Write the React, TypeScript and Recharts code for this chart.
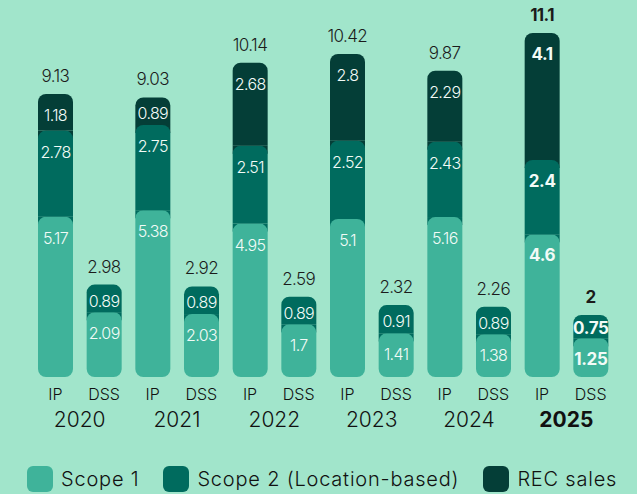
import { ComposedChart, Bar, Scatter, XAxis, YAxis, LabelList, Legend, Rectangle } from "recharts";

const years = ["2020", "2021", "2022", "2023", "2024", "2025"];
const sites = ["IP", "DSS"];
const scope1 = [5.17, 2.09, 5.38, 2.03, 4.95, 1.7, 5.1, 1.41, 5.16, 1.38, 4.6, 1.25];
const scope2 = [2.78, 0.89, 2.75, 0.89, 2.51, 0.89, 2.52, 0.91, 2.43, 0.89, 2.4, 0.75];
const recSales = [1.18, 0, 0.89, 0, 2.68, 0, 2.8, 0, 2.29, 0, 4.1, 0];
const totals = [9.13, 2.98, 9.03, 2.92, 10.14, 2.59, 10.42, 2.32, 9.87, 2.26, 11.1, 2];

const C1 = "#3fb39a";
const C2 = "#006b5e";
const C3 = "#043e37";
const BG = "#a1e5cb";
const FONT = "Inter, 'DejaVu Sans', sans-serif";
const R = 8;

const W = 637;
const H = 494;
const margin = { top: 5, right: 22, left: 31, bottom: 0 };
const halfStep = (W - margin.left - margin.right) / 12 / 2;

const data = scope1.map((v, i) => ({
  key: `${sites[i % 2]}-${years[Math.floor(i / 2)]}`,
  site: sites[i % 2],
  year: years[Math.floor(i / 2)],
  scope1: v,
  scope2: scope2[i],
  rec: recSales[i],
  total: totals[i],
}));

// lower segment paints the next colour behind its rounded top corners
function Scope1Shape(props: any) {
  const { x, y, width, height } = props;
  return (
    <g>
      <rect x={x} y={y} width={width} height={R} fill={C2} />
      <Rectangle x={x} y={y} width={width} height={height} radius={R} fill={C1} />
    </g>
  );
}

function Scope2Shape(props: any) {
  const { x, y, width, height, payload } = props;
  return (
    <g>
      {payload.rec > 0 && <rect x={x} y={y} width={width} height={R} fill={C3} />}
      <Rectangle x={x} y={y} width={width} height={height} radius={[R, R, 0, 0]} fill={C2} />
    </g>
  );
}

function RecShape(props: any) {
  const { x, y, width, height } = props;
  if (!height) return <g />;
  return <Rectangle x={x} y={y} width={width} height={height} radius={[R, R, 0, 0]} fill={C3} />;
}

const innerLabel = (props: any) => {
  const { x, y, width, height, value, index } = props;
  if (!value) return null;
  const bold = index >= 10;
  return (
    <text
      x={x + width / 2}
      y={y + Math.min(21, height * 0.58)}
      textAnchor="middle"
      dominantBaseline="central"
      fill="#f2fbf7"
      fontSize={bold ? 17 : 16}
      fontWeight={bold ? 700 : 300}
      letterSpacing={bold ? -0.3 : -0.6}
      fontFamily={FONT}
    >
      {value}
    </text>
  );
};

function TotalShape(props: any) {
  const { cx, cy, payload, index } = props;
  const bold = index >= 10;
  return (
    <text
      x={cx}
      y={cy - 18}
      textAnchor="middle"
      dominantBaseline="central"
      fill="#1b1b1b"
      fontSize={17}
      fontWeight={bold ? 700 : 300}
      letterSpacing={-0.6}
      fontFamily={FONT}
    >
      {payload.total}
    </text>
  );
}

function AxisTick(props: any) {
  const { x, y, index } = props;
  const d = data[index];
  const last = d.year === years[years.length - 1];
  return (
    <g>
      <text x={x} y={y + 23} textAnchor="middle" fill="#111" fontSize={16} fontWeight={300} fontFamily={FONT}>
        {d.site}
      </text>
      {index % 2 === 0 && (
        <text
          x={x + halfStep}
          y={y + 50}
          textAnchor="middle"
          fill="#111"
          fontSize={21}
          fontWeight={last ? 700 : 300}
          fontFamily={FONT}
        >
          {d.year}
        </text>
      )}
    </g>
  );
}

const legendItems = [
  { label: "Scope 1", color: C1 },
  { label: "Scope 2 (Location-based)", color: C2 },
  { label: "REC sales", color: C3 },
];

function LegendContent() {
  return (
    <div
      style={{
        display: "flex",
        alignItems: "center",
        gap: 24,
        paddingLeft: 27,
        paddingTop: 8,
        height: 30,
        fontFamily: FONT,
        whiteSpace: "nowrap",
      }}
    >
      {legendItems.map((it) => (
        <div key={it.label} style={{ display: "flex", alignItems: "center", gap: 8 }}>
          <div style={{ width: 26, height: 26, borderRadius: 6, background: it.color, flexShrink: 0 }} />
          <span style={{ fontSize: 20, fontWeight: 300, color: "#111", letterSpacing: 0.8 }}>{it.label}</span>
        </div>
      ))}
    </div>
  );
}

export default function App() {
  return (
    <div style={{ position: "absolute", left: 0, top: 0, width: W, height: H, background: BG, overflow: "hidden" }}>
      <ComposedChart width={W} height={H} data={data} margin={margin}>
        <XAxis
          dataKey="key"
          interval={0}
          tickLine={false}
          axisLine={false}
          tickSize={0}
          tickMargin={0}
          height={79}
          tick={<AxisTick />}
        />
        <YAxis hide domain={[0, 12]} />
        <Legend
          verticalAlign="bottom"
          align="left"
          height={38}
          wrapperStyle={{ left: 0, width: W }}
          content={<LegendContent />}
        />
        <Bar dataKey="scope1" stackId="a" barSize={35} fill={C1} shape={<Scope1Shape />} isAnimationActive={false}>
          <LabelList dataKey="scope1" content={innerLabel} />
        </Bar>
        <Bar dataKey="scope2" stackId="a" barSize={35} fill={C2} shape={<Scope2Shape />} isAnimationActive={false}>
          <LabelList dataKey="scope2" content={innerLabel} />
        </Bar>
        <Bar dataKey="rec" stackId="a" barSize={35} fill={C3} shape={<RecShape />} isAnimationActive={false}>
          <LabelList dataKey="rec" content={innerLabel} />
        </Bar>
        <Scatter dataKey="total" shape={<TotalShape />} isAnimationActive={false} legendType="none" />
      </ComposedChart>
    </div>
  );
}
